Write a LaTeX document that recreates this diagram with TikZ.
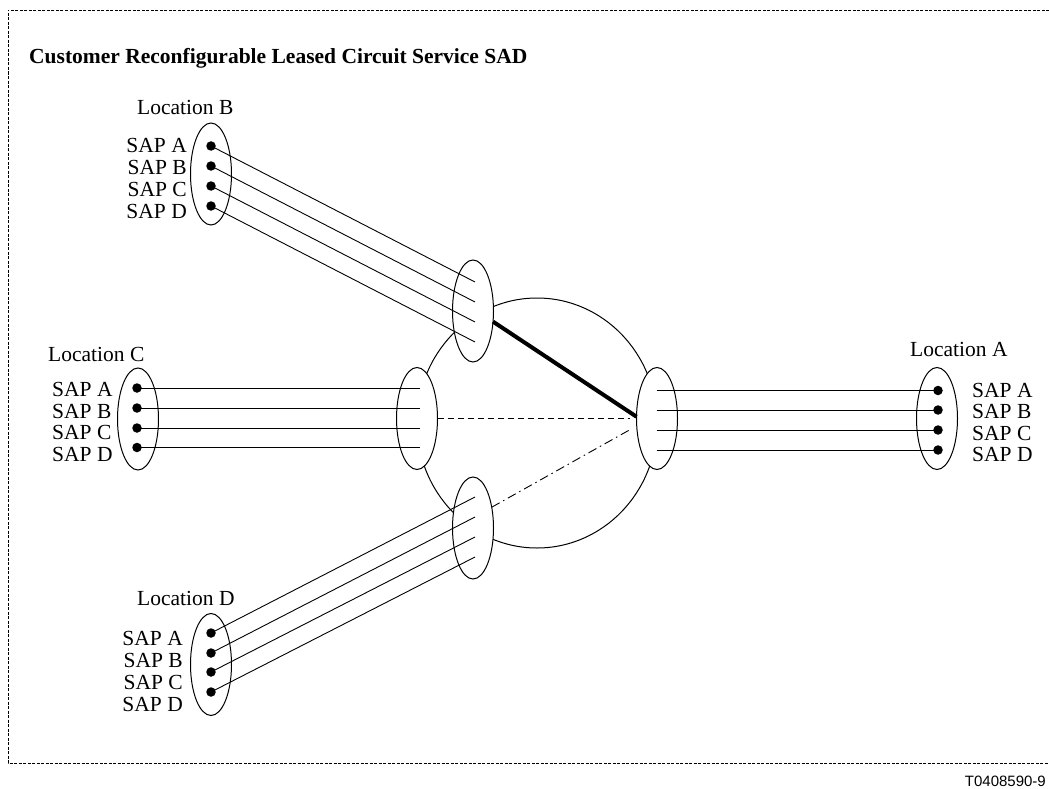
\documentclass[tikz,border=0pt]{standalone}
\usepackage{fontspec}
\setmainfont{Liberation Serif}
\newfontfamily\codesans{Liberation Sans}
\usetikzlibrary{shapes.geometric}
\begin{document}
\begin{tikzpicture}[x=1pt,y=-1pt,
  every node/.style={font=\fontsize{21.5}{24}\selectfont},
  ring/.style={ellipse, draw, line width=1pt, fill=white, inner sep=0pt, outer sep=0pt, minimum width=41pt, minimum height=102pt},
  sapdot/.style={circle, fill=black, inner sep=0pt, minimum size=9.5pt},
  wire/.style={line width=0.9pt},
  saplbl/.style={inner sep=0pt},
  loclbl/.style={inner sep=0pt, anchor=base west},
  frame/.style={line width=0.8pt, dash pattern=on 3pt off 1.5pt},
  activelink/.style={line width=4pt},
  standbylink/.style={line width=0.9pt, dash pattern=on 6pt off 4pt},
  otherlink/.style={line width=0.9pt, dash pattern=on 9pt off 4pt on 1.5pt off 4pt}
]
\useasboundingbox (0,0) rectangle (1049,789);
% frame
\draw[frame] (1049,10) -| (8,763) -- (1049,763);
\node[loclbl, font=\fontsize{21.5}{24}\selectfont\bfseries] (title) at (29,64) {Customer Reconfigurable Leased Circuit Service SAD};
\node[inner sep=0pt, anchor=base east, font=\fontsize{15}{17}\selectfont\codesans] (code) at (1046,786) {T0408590-9};

% network cloud
\draw[line width=1pt] (537,423) ellipse [x radius=120, y radius=125];

% inner rings
\node[ring] (bi) at (473,311) {};
\node[ring] (ci) at (417,418.5) {};
\node[ring] (ai) at (657,418.5) {};
\node[ring] (di) at (473,528) {};

% outer rings
\node[ring] (bo) at (211,174) {};
\node[ring] (co) at (138,419) {};
\node[ring] (ao) at (937,418.5) {};
\node[ring] (do) at (211,664.5) {};

% location labels
\node[loclbl] (locb) at (137,115) {Location B};
\node[loclbl] (locc) at (48,361.5) {Location C};
\node[loclbl] (loca) at (910,356) {Location A};
\node[loclbl] (locd) at (137,605.5) {Location D};

% SAP labels
\foreach \n/\t [count=\i from 0] in {A/SAP A,B/SAP B,C/SAP C,D/SAP D}{
  \node[saplbl, anchor=east] (lb\n) at (187,145+22*\i) {\t};
  \node[saplbl, anchor=west] (lc\n) at (52,389.5+21.5*\i) {\t};
  \node[saplbl, anchor=west] (la\n) at (972,390+21.5*\i) {\t};
  \node[saplbl, anchor=east] (ld\n) at (183,638+22*\i) {\t};
}

% Location B wires
\foreach \i/\yd/\ye in {1/146/282,2/166/302,3/186/322,4/206/342}{
  \coordinate (bi\i) at (475,\ye);
  \node[sapdot] (b\i) at (211,\yd) {};
  \draw[wire] (b\i.center) -- (bi\i);
}
% Location D wires
\foreach \i/\yd/\ye in {1/633/497,2/653/517,3/672/537,4/692/557}{
  \coordinate (di\i) at (475,\ye);
  \node[sapdot] (d\i) at (211,\yd) {};
  \draw[wire] (d\i.center) -- (di\i);
}
% Location C wires
\foreach \i/\yd in {1/388,2/408,3/428,4/447.5}{
  \coordinate (ci\i) at (420,\yd);
  \node[sapdot] (c\i) at (137,\yd) {};
  \draw[wire] (c\i.center) -- (ci\i);
}
% Location A wires
\foreach \i/\yd in {1/390.5,2/410,3/430,4/450}{
  \coordinate (ai\i) at (656.5,\yd);
  \node[sapdot] (a\i) at (938,\yd) {};
  \draw[wire] (ai\i) -- (a\i.center);
}

% connections across the network
\draw[activelink] (bi.-28) -- (ai.175);
\draw[standbylink, shorten >=7pt] (ci.east) -- (ai.west);
\draw[otherlink, shorten >=6pt] (di.48) -- (ai.-160);
\end{tikzpicture}
\end{document}
